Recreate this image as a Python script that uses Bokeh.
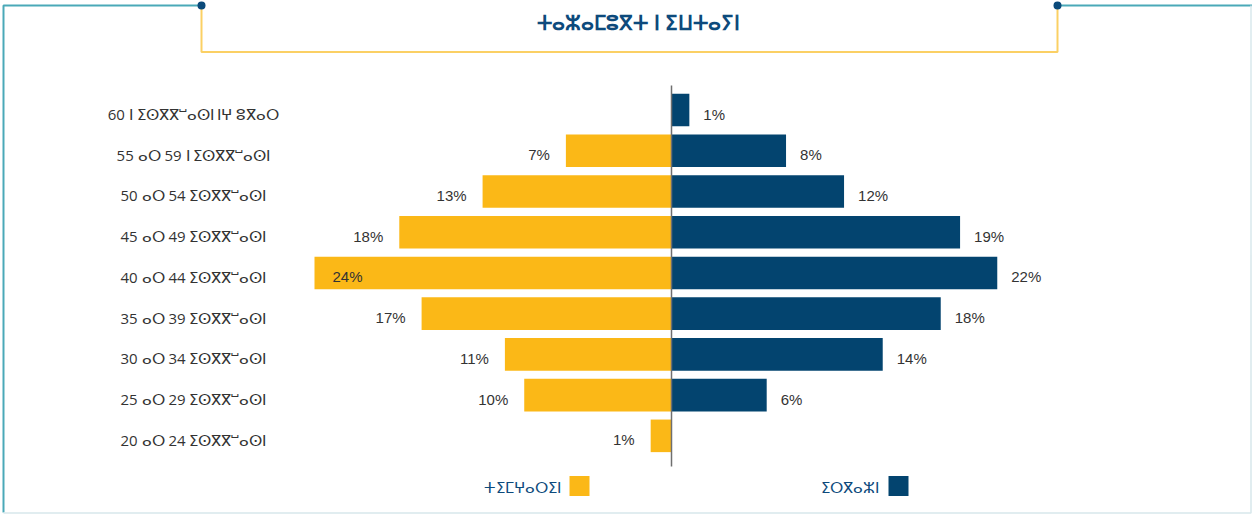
from bokeh.plotting import figure
from bokeh.models import Range1d, ColumnDataSource
from bokeh.core.properties import value
from bokeh.embed import file_html
from bokeh.resources import INLINE

# ---------------- data ----------------
age_groups = [
    "60 ⵏ ⵉⵙⴳⴳⵯⴰⵙⵏ ⵏⵖ ⵓⴳⴰⵔ",
    "55 ⴰⵔ 59 ⵏ ⵉⵙⴳⴳⵯⴰⵙⵏ",
    "50 ⴰⵔ 54 ⵉⵙⴳⴳⵯⴰⵙⵏ",
    "45 ⴰⵔ 49 ⵉⵙⴳⴳⵯⴰⵙⵏ",
    "40 ⴰⵔ 44 ⵉⵙⴳⴳⵯⴰⵙⵏ",
    "35 ⴰⵔ 39 ⵉⵙⴳⴳⵯⴰⵙⵏ",
    "30 ⴰⵔ 34 ⵉⵙⴳⴳⵯⴰⵙⵏ",
    "25 ⴰⵔ 29 ⵉⵙⴳⴳⵯⴰⵙⵏ",
    "20 ⴰⵔ 24 ⵉⵙⴳⴳⵯⴰⵙⵏ",
]
women = [0, 7.1, 12.7, 18.3, 24.0, 16.8, 11.2, 9.9, 1.4]
men = [1.2, 7.7, 11.6, 19.4, 21.9, 18.1, 14.2, 6.4, 0]
series_names = ["ⵜⵉⵎⵖⴰⵔⵉⵏ", "ⵉⵔⴳⴰⵣⵏ"]
title_text = "ⵜⴰⵣⴰⵎⵓⴳⵜ ⵏ ⵉⵡⵜⴰⵢⵏ"

# ---------------- style ----------------
YELLOW = "#FBB817"
BLUE = "#03446F"
DARKBLUE = "#0d4a7c"
TEAL = "#4aa9b8"
GOLD = "#fbd064"
TXT = "#333333"

W, H = 1252, 514
PX = 14.875      # pixels per percent
X0 = 671         # canvas x of the zero line
ROW = 40.73      # pixels per row
Y0 = 109.5       # canvas y of first row centre


def dx(cx):
    return (cx - X0) / PX


def dy(cy):
    return (cy - Y0) / ROW


p = figure(width=W, height=H, output_backend="svg", toolbar_location=None,
           x_range=Range1d(dx(0), dx(W)), y_range=Range1d(dy(H), dy(0)),
           min_border=0, outline_line_color=None, background_fill_color="white",
           border_fill_color="white")
p.axis.visible = False
p.grid.visible = False

idx = list(range(len(age_groups)))

# bars
wsrc = ColumnDataSource(dict(y=[i for i in idx if women[i] > 0],
                             left=[-women[i] for i in idx if women[i] > 0]))
msrc = ColumnDataSource(dict(y=[i for i in idx if men[i] > 0],
                             right=[men[i] for i in idx if men[i] > 0]))
p.hbar(y="y", left="left", right=0, height=0.8, source=wsrc,
       fill_color=YELLOW, line_color=None)
p.hbar(y="y", left=0, right="right", height=0.8, source=msrc,
       fill_color=BLUE, line_color=None)

# centre line
p.segment(x0=[0], y0=[dy(85)], x1=[0], y1=[dy(466)], line_color="#6f6f6f", line_width=1.5)

# value labels
lab_off = 4 / ROW
inside = 20
wo = [i for i in idx if 0 < women[i] <= inside]
wi = [i for i in idx if women[i] > inside]
mo = [i for i in idx if men[i] > 0]
common = dict(text_font=value("Liberation Sans"), text_font_size="15px",
              text_color=TXT, text_baseline="middle")
p.text(x=[-women[i] for i in wo], y=[i + lab_off for i in wo],
       text=[f"{round(women[i])}%" for i in wo], text_align="right", x_offset=-16, **common)
p.text(x=[-women[i] for i in wi], y=[i + lab_off for i in wi],
       text=[f"{round(women[i])}%" for i in wi], text_align="left", x_offset=18, **common)
p.text(x=[men[i] for i in mo], y=[i + lab_off for i in mo],
       text=[f"{round(men[i])}%" for i in mo], text_align="left", x_offset=14, **common)

# category labels
p.text(x=[dx(193)] * len(idx), y=[i + lab_off for i in idx], text=age_groups,
       text_align="center", text_baseline="middle", text_font=value("Open Sans"),
       text_font_size="15px", text_color=TXT)

# legend
p.rect(x=[dx(579), dx(898)], y=[dy(485.5)] * 2, width=20, height=20,
       width_units="screen", height_units="screen", fill_color=[YELLOW, BLUE], line_color=None)
p.text(x=[dx(560), dx(878)], y=[dy(486)] * 2, text=series_names, text_align="right",
       text_baseline="middle", text_font=value("Open Sans"), text_font_size="15px",
       text_color=DARKBLUE)

# title
p.text(x=[dx(638)], y=[dy(21.5)], text=[title_text], text_align="center",
       text_baseline="middle", text_font=value("Open Sans"), text_font_size="20px",
       text_font_style="bold", text_color=DARKBLUE)

# frame decoration
p.line(x=[dx(201), dx(3), dx(3)], y=[dy(5), dy(5), dy(512)], line_color=TEAL, line_width=2)
p.line(x=[dx(1057), dx(W)], y=[dy(5), dy(5)], line_color=TEAL, line_width=2)
p.line(x=[dx(W - 1.5), dx(W - 1.5), dx(3)], y=[dy(5), dy(512.5), dy(512.5)],
       line_color="#d8e8ec", line_width=1.5)
p.line(x=[dx(201), dx(201), dx(1057), dx(1057)], y=[dy(5), dy(51.5), dy(51.5), dy(5)],
       line_color=GOLD, line_width=2)
p.scatter(x=[dx(201), dx(1057)], y=[dy(5)] * 2, size=8, fill_color="#0b4a7a", line_color=None)

open("out.html", "w").write(file_html(p, INLINE))
